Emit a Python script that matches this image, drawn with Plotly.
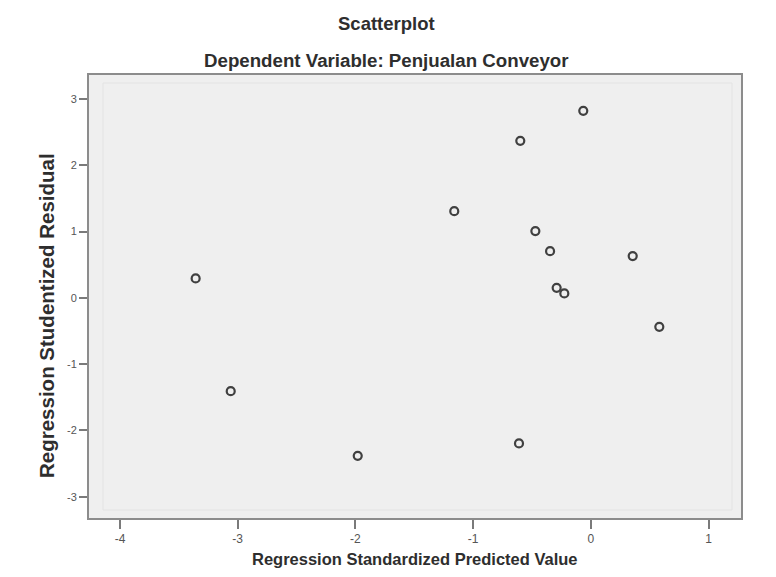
import plotly.graph_objects as go

predicted = [-0.064, -0.599, -0.471, -0.346, -0.290, -0.225, 0.356, 0.582,
             -3.357, -3.059, -1.980, -1.160, -0.610]
residual = [2.82, 2.368, 1.006, 0.704, 0.151, 0.066, 0.629, -0.437,
            0.293, -1.407, -2.383, 1.307, -2.196]

x_ticks = [-4, -3, -2, -1, 0, 1]
y_ticks = [-3, -2, -1, 0, 1, 2, 3]

title_main = "Scatterplot"
title_sub = "Dependent Variable: Penjualan Conveyor"
x_title = "Regression Standardized Predicted Value"
y_title = "Regression Studentized Residual"

FONT = "Liberation Sans, Arial, sans-serif"
TXT = "#2e2e2e"

# page position of the plot area (body margin 8px)
PL, PT, PW, PH = 89, 75, 652, 443


def px(X):
    return (X - PL) / PW


def py(Y):
    return (PT + PH - Y) / PH


fig = go.Figure()
fig.add_trace(go.Scatter(
    x=predicted, y=residual, mode="markers",
    marker=dict(symbol="circle-open", size=8, color="#404040",
                line=dict(width=2.2, color="#404040")),
    showlegend=False, hoverinfo="x+y",
))

fig.update_layout(
    width=760, height=561,
    margin=dict(l=81, r=27, t=67, b=51),
    paper_bgcolor="white",
    plot_bgcolor="#efefef",
    font=dict(family=FONT, color=TXT),
)

# faint inner frame
fig.add_shape(type="rect", xref="paper", yref="paper",
              x0=px(103), x1=px(732), y0=py(510), y1=py(83),
              line=dict(color="#e3e3e3", width=1), layer="below")

fig.add_annotation(text="<b>" + title_main + "</b>", xref="paper", yref="paper",
                   x=px(386), y=py(24), xanchor="center", yanchor="middle",
                   showarrow=False, font=dict(size=18.5, color=TXT))
fig.add_annotation(text="<b>" + title_sub + "</b>", xref="paper", yref="paper",
                   x=px(386), y=py(60), xanchor="center", yanchor="middle",
                   showarrow=False, font=dict(size=18.7, color=TXT))
fig.add_annotation(text="<b>" + x_title + "</b>", xref="paper", yref="paper",
                   x=px(415), y=py(559), xanchor="center", yanchor="middle",
                   showarrow=False, font=dict(size=16.5, color=TXT))
fig.add_annotation(text="<b>" + y_title + "</b>", xref="paper", yref="paper",
                   x=px(46), y=py(316), xanchor="center", yanchor="middle",
                   textangle=-90, showarrow=False, font=dict(size=20.5, color=TXT))

fig.update_xaxes(
    range=[-4.263, 1.276], tickvals=x_ticks, ticktext=[str(v) for v in x_ticks],
    showgrid=False, zeroline=False,
    showline=True, linecolor="#8c8c8c", linewidth=2, mirror=True,
    ticks="outside", ticklen=9, tickcolor="#7a7a7a", tickwidth=2,
    tickfont=dict(size=12, color="#555555"),
)
fig.update_yaxes(
    range=[-3.32, 3.36], tickvals=y_ticks, ticktext=[str(v) for v in y_ticks],
    showgrid=False, zeroline=False,
    showline=True, linecolor="#8c8c8c", linewidth=2, mirror=True,
    ticks="outside", ticklen=8, tickcolor="#7a7a7a", tickwidth=2,
    tickfont=dict(size=11, color="#555555"),
)

fig.write_html("out.html")
